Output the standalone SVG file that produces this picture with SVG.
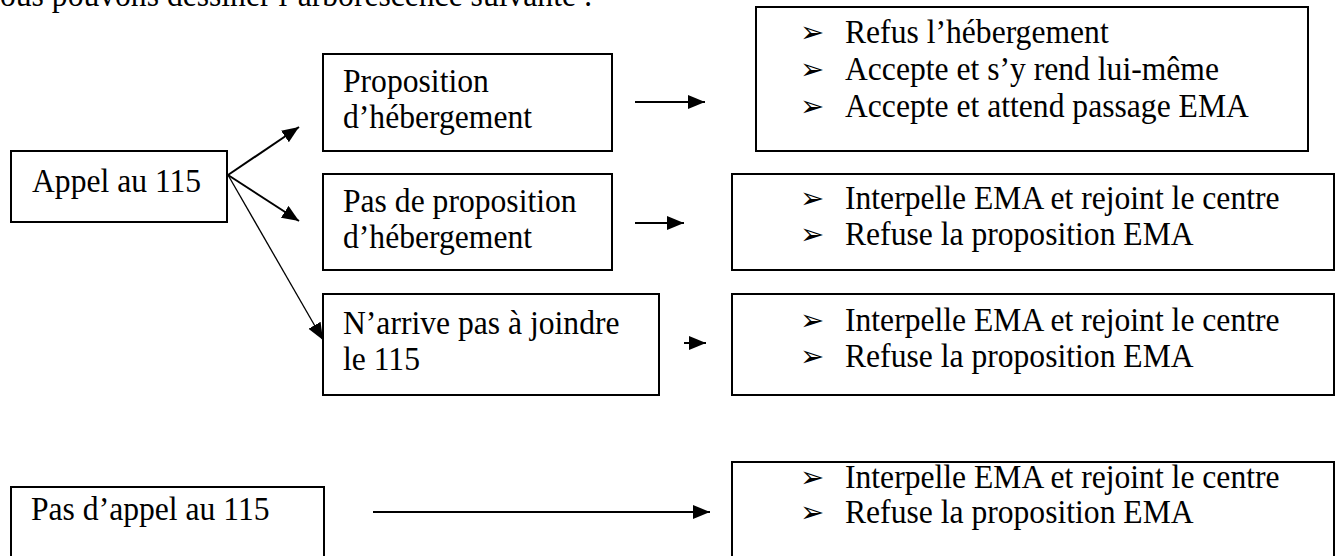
<svg xmlns="http://www.w3.org/2000/svg" width="1336" height="556" viewBox="0 0 1336 556">
<style>
.box{fill:#fff;stroke:#000;stroke-width:2}
.t{font-family:"Liberation Serif","Times New Roman",serif;font-size:34px;fill:#000}
.b{font-family:"DejaVu Sans",sans-serif;font-size:29px;fill:#000}
.c{stroke:#000;stroke-width:2;fill:none}
.thin{stroke:#000;stroke-width:1.3;fill:none}
</style>
<defs>
<marker id="ah" markerUnits="userSpaceOnUse" markerWidth="18" markerHeight="15" refX="17" refY="7" orient="auto">
<path d="M0,0 L17,7 L0,14 z" fill="#000"/>
</marker>
</defs>
<rect width="1336" height="556" fill="#fff"/>
<text class="t" transform="translate(0 6) scale(.93 1)">ous pouvons dessiner l’arborescence suivante :</text>

<g id="appel">
<rect class="box" x="11" y="151" width="216" height="71"/>
<text class="t" transform="translate(32 192) scale(.93 1)">Appel au 115</text>
</g>
<g id="proposition">
<rect class="box" x="323" y="54" width="289" height="97"/>
<text class="t" transform="translate(343 92) scale(.93 1)">Proposition</text>
<text class="t" transform="translate(343 128) scale(.93 1)">d’hébergement</text>
</g>
<g id="pas-proposition">
<rect class="box" x="323" y="174" width="289" height="96"/>
<text class="t" transform="translate(343 212) scale(.93 1)">Pas de proposition</text>
<text class="t" transform="translate(343 248) scale(.93 1)">d’hébergement</text>
</g>
<g id="narrive">
<rect class="box" x="323" y="294" width="336" height="101"/>
<text class="t" transform="translate(343 334) scale(.93 1)">N’arrive pas à joindre</text>
<text class="t" transform="translate(343 370) scale(.93 1)">le 115</text>
</g>
<g id="pas-appel">
<rect class="box" x="11" y="487" width="313" height="80"/>
<text class="t" transform="translate(31 520) scale(.93 1)">Pas d’appel au 115</text>
</g>

<g id="issues-hebergement">
<rect class="box" x="756" y="7" width="552" height="144"/>
<text class="b" x="800" y="42">➢</text>
<text class="t" transform="translate(845 43) scale(.93 1)">Refus l’hébergement</text>
<text class="b" x="800" y="79">➢</text>
<text class="t" transform="translate(845 80) scale(.93 1)">Accepte et s’y rend lui-même</text>
<text class="b" x="800" y="116">➢</text>
<text class="t" transform="translate(845 117) scale(.93 1)">Accepte et attend passage EMA</text>
</g>
<g id="issues-pas-proposition">
<rect class="box" x="732" y="174" width="602" height="96"/>
<text class="b" x="800" y="208">➢</text>
<text class="t" transform="translate(845 209) scale(.93 1)">Interpelle EMA et rejoint le centre</text>
<text class="b" x="800" y="244">➢</text>
<text class="t" transform="translate(845 245) scale(.93 1)">Refuse la proposition EMA</text>
</g>
<g id="issues-narrive">
<rect class="box" x="732" y="294" width="602" height="101"/>
<text class="b" x="800" y="330">➢</text>
<text class="t" transform="translate(845 331) scale(.93 1)">Interpelle EMA et rejoint le centre</text>
<text class="b" x="800" y="366">➢</text>
<text class="t" transform="translate(845 367) scale(.93 1)">Refuse la proposition EMA</text>
</g>
<g id="issues-pas-appel">
<rect class="box" x="732" y="462" width="602" height="105"/>
<text class="b" x="800" y="487">➢</text>
<text class="t" transform="translate(845 488) scale(.93 1)">Interpelle EMA et rejoint le centre</text>
<text class="b" x="800" y="522">➢</text>
<text class="t" transform="translate(845 523) scale(.93 1)">Refuse la proposition EMA</text>
</g>

<g id="connectors">
<line class="c" x1="228" y1="175" x2="299" y2="127" marker-end="url(#ah)"/>
<line class="c" x1="228" y1="175" x2="299" y2="221" marker-end="url(#ah)"/>
<line class="thin" x1="228" y1="175" x2="323" y2="340" marker-end="url(#ah)"/>
<line class="c" x1="635" y1="102" x2="705" y2="102" marker-end="url(#ah)"/>
<line class="c" x1="635" y1="223" x2="684" y2="223" marker-end="url(#ah)"/>
<line class="c" x1="684" y1="343" x2="706" y2="343" marker-end="url(#ah)"/>
<line class="c" x1="373" y1="512" x2="710" y2="512" marker-end="url(#ah)"/>
</g>
</svg>
